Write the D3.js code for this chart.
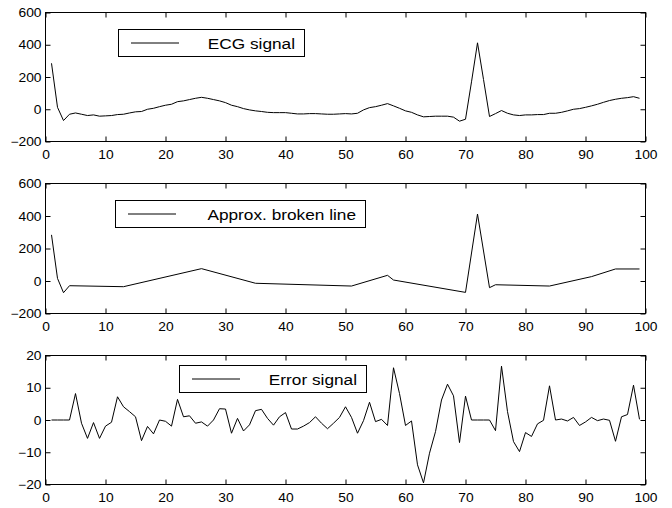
<!DOCTYPE html>
<html>
<head>
<meta charset="utf-8">
<script src="https://cdn.jsdelivr.net/npm/d3@7"></script>
<style>
  body { margin: 0; background: #fff; }
  svg { display: block; }
  .tick text, .legend text { font-family: "Liberation Sans", Arial, sans-serif; fill: #000; }
</style>
</head>
<body>
<svg id="chart" width="672" height="508"></svg>
<script>
// sample index 1..99
var sampleIdx = d3.range(1, 100);

// original ECG signal
var ecgSignal = [
  285, 12, -70, -31, -23, -31, -39, -35, -43, -41,
  -39, -33, -31, -23, -16, -14, 0, 6, 16, 25,
  31, 47, 52, 60, 68, 74, 68, 60, 52, 41,
  25, 16, 4, -4, -10, -14, -19, -21, -21, -21,
  -25, -29, -29, -27, -27, -29, -31, -31, -29, -27,
  -29, -25, -4, 10, 16, 25, 35, 21, 6, -10,
  -19, -35, -47, -45, -43, -43, -43, -49, -74, -62,
  170, 412, 185, -45, -27, -8, -25, -35, -39, -35,
  -35, -33, -33, -25, -25, -19, -10, 0, 4, 12,
  21, 31, 43, 54, 62, 68, 72, 78, 68
];

// knots of the approximating broken line
var approxX = [1, 2, 3, 4, 13, 26, 35, 51, 57, 58, 70, 72, 74, 75, 84, 91, 95, 99];
var approxY = [284, 16, -72, -29, -35, 76, -14, -31, 35, 6, -70, 412, -41, -23, -31, 27, 74, 74];

// error signal
var errorSignal = [
  0, 0, 0, 0, 8.2, -1, -5.7, -0.8, -5.7, -1.9,
  -0.7, 7.2, 4.1, 2.6, 1.0, -6.4, -2, -4.3, 0, -0.4,
  -1.9, 6.4, 1, 1.3, -1, -0.6, -1.9, 0, 3.5, 3.4,
  -4.1, 0.5, -3.4, -1.5, 2.9, 3.3, 0.5, -1.6, 1, 2.3,
  -2.8, -2.8, -1.9, -0.8, 1, -1, -2.7, -1, 0.8, 4.1,
  0.8, -4.1, -0.2, 5.5, -0.5, 0.2, -1.7, 16.2, 8.2, -1.7,
  -0.3, -13.9, -19.5, -10.3, -3.6, 6.2, 11.1, 7.5, -7, 7.4,
  0, 0, 0, 0, -3.3, 16.7, 2.6, -6.7, -9.8, -3.9,
  -5.1, -1.2, -0.1, 10.6, 0, 0.3, -0.3, 0.8, -1.7, -0.6,
  0.8, -0.2, 0.3, -0.1, -6.6, 1, 1.7, 10.8, 0.2
];

var xTicks = [0, 10, 20, 30, 40, 50, 60, 70, 80, 90, 100];
var ecgTicks = [-200, 0, 200, 400, 600];
var errTicks = [-20, -10, 0, 10, 20];

var svg = d3.select("#chart");
var x = d3.scaleLinear().domain([0, 100]).range([45.5, 645.5]);
var stretch = 1.15; // the reference text is a bit wide

function drawPanel(opts) {
  var y = d3.scaleLinear().domain(opts.domain).range([opts.bottom, opts.top]);
  var g = svg.append("g");

  // ticks pointing inward on all four sides
  var axes = [
    { ax: d3.axisBottom(x).tickValues(xTicks), tr: "translate(0," + opts.bottom + ")" },
    { ax: d3.axisTop(x).tickValues(xTicks).tickFormat(""), tr: "translate(0," + opts.top + ")" },
    { ax: d3.axisLeft(y).tickValues(opts.ticks), tr: "translate(45.5,0)" },
    { ax: d3.axisRight(y).tickValues(opts.ticks).tickFormat(""), tr: "translate(645.5,0)" }
  ];
  var groups = axes.map(function (a) {
    var ag = g.append("g")
      .attr("transform", a.tr)
      .call(a.ax.tickSizeInner(-5).tickSizeOuter(0));
    ag.select(".domain").remove();
    ag.selectAll(".tick line").attr("stroke", "#000");
    return ag;
  });

  // bottom labels
  groups[0].selectAll(".tick text")
    .attr("y", 0).attr("dy", null)
    .attr("font-size", 12)
    .attr("transform", "translate(0,17) scale(" + stretch + ",1)");
  // left labels
  groups[2].selectAll(".tick text")
    .attr("x", 0).attr("dy", "0.35em")
    .attr("font-size", 12)
    .attr("transform", "translate(-4,0) scale(" + stretch + ",1)");

  // frame
  g.append("rect")
    .attr("x", 45.5).attr("y", opts.top)
    .attr("width", 600).attr("height", opts.bottom - opts.top)
    .attr("fill", "none").attr("stroke", "#000").attr("stroke-width", 1);

  var line = d3.line()
    .x(function (d) { return x(d[0]); })
    .y(function (d) { return y(d[1]); });

  g.append("path")
    .datum(opts.points)
    .attr("d", line)
    .attr("fill", "none")
    .attr("stroke", "#000")
    .attr("stroke-width", 1)
    .attr("stroke-linejoin", "round");

  // legend box
  var lg = g.append("g").attr("class", "legend");
  var lb = opts.legend;
  lg.append("rect")
    .attr("x", lb.x0).attr("y", lb.y0)
    .attr("width", lb.x1 - lb.x0).attr("height", lb.h)
    .attr("fill", "#fff").attr("stroke", "#000").attr("stroke-width", 1);
  lg.append("line")
    .attr("x1", lb.x0 + 12.5).attr("x2", lb.x0 + 60.5)
    .attr("y1", lb.y0 + lb.h / 2).attr("y2", lb.y0 + lb.h / 2)
    .attr("stroke", "#000").attr("stroke-width", 1);
  lg.append("text")
    .attr("text-anchor", "end")
    .attr("font-size", 15)
    .attr("transform", "translate(" + (lb.x1 - 9.5) + "," + (lb.y0 + lb.h / 2 + 5.5) + ") scale(" + stretch + ",1)")
    .text(opts.label);
}

drawPanel({
  domain: [-200, 600], ticks: ecgTicks, top: 12.5, bottom: 141.5,
  points: sampleIdx.map(function (d, i) { return [d, ecgSignal[i]]; }),
  label: "ECG signal",
  legend: { x0: 118.5, x1: 304.5, y0: 29.5, h: 27 }
});

drawPanel({
  domain: [-200, 600], ticks: ecgTicks, top: 183.5, bottom: 313.5,
  points: approxX.map(function (d, i) { return [d, approxY[i]]; }),
  label: "Approx. broken line",
  legend: { x0: 115.5, x1: 365.5, y0: 200.5, h: 27 }
});

drawPanel({
  domain: [-20, 20], ticks: errTicks, top: 355.5, bottom: 484.5,
  points: sampleIdx.map(function (d, i) { return [d, errorSignal[i]]; }),
  label: "Error signal",
  legend: { x0: 179.5, x1: 366.5, y0: 365.5, h: 27 }
});
</script>
</body>
</html>
